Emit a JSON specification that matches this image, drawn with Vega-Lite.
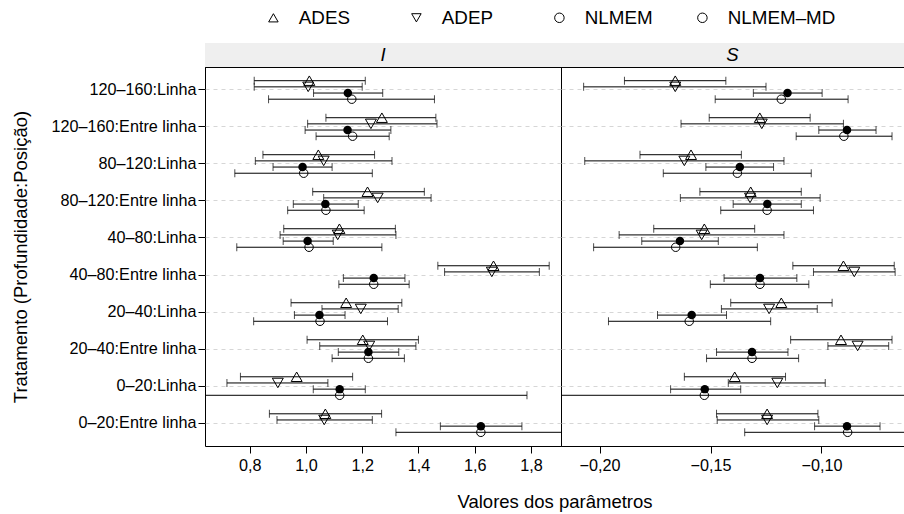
{
  "$schema": "https://vega.github.io/schema/vega-lite/v6.json",
  "padding": {"left": 10, "top": 7, "right": 0, "bottom": 0},
  "config": {
    "font": "Liberation Sans",
    "view": {"stroke": "black", "strokeWidth": 1},
    "locale": {"number": {"decimal": ",", "thousands": ".", "grouping": [3], "currency": ["", " €"]}},
    "axis": {"labelColor": "black", "tickColor": "black", "titleColor": "black", "labelFont": "Liberation Sans", "titleFont": "Liberation Sans"}
  },
  "data": {"values": [
    {"p":"I","t":"120–160:Linha","m":"ADES","e":1.012,"lo":0.816,"hi":1.211},
    {"p":"I","t":"120–160:Linha","m":"ADEP","e":1.008,"lo":0.816,"hi":1.200},
    {"p":"I","t":"120–160:Linha","m":"NLMEM","e":1.149,"lo":1.027,"hi":1.273},
    {"p":"I","t":"120–160:Linha","m":"NLMEM–MD","e":1.163,"lo":0.867,"hi":1.457},
    {"p":"I","t":"120–160:Entre linha","m":"ADES","e":1.270,"lo":1.071,"hi":1.462},
    {"p":"I","t":"120–160:Entre linha","m":"ADEP","e":1.231,"lo":1.006,"hi":1.466},
    {"p":"I","t":"120–160:Entre linha","m":"NLMEM","e":1.148,"lo":0.997,"hi":1.302},
    {"p":"I","t":"120–160:Entre linha","m":"NLMEM–MD","e":1.166,"lo":1.036,"hi":1.296},
    {"p":"I","t":"80–120:Linha","m":"ADES","e":1.044,"lo":0.847,"hi":1.244},
    {"p":"I","t":"80–120:Linha","m":"ADEP","e":1.063,"lo":0.820,"hi":1.306},
    {"p":"I","t":"80–120:Linha","m":"NLMEM","e":0.988,"lo":0.883,"hi":1.093},
    {"p":"I","t":"80–120:Linha","m":"NLMEM–MD","e":0.992,"lo":0.747,"hi":1.236},
    {"p":"I","t":"80–120:Entre linha","m":"ADES","e":1.219,"lo":1.024,"hi":1.421},
    {"p":"I","t":"80–120:Entre linha","m":"ADEP","e":1.255,"lo":1.063,"hi":1.445},
    {"p":"I","t":"80–120:Entre linha","m":"NLMEM","e":1.069,"lo":0.955,"hi":1.186},
    {"p":"I","t":"80–120:Entre linha","m":"NLMEM–MD","e":1.071,"lo":0.935,"hi":1.207},
    {"p":"I","t":"40–80:Linha","m":"ADES","e":1.119,"lo":0.921,"hi":1.318},
    {"p":"I","t":"40–80:Linha","m":"ADEP","e":1.113,"lo":0.908,"hi":1.320},
    {"p":"I","t":"40–80:Linha","m":"NLMEM","e":1.006,"lo":0.919,"hi":1.097},
    {"p":"I","t":"40–80:Linha","m":"NLMEM–MD","e":1.011,"lo":0.754,"hi":1.270},
    {"p":"I","t":"40–80:Entre linha","m":"ADES","e":1.667,"lo":1.469,"hi":1.865},
    {"p":"I","t":"40–80:Entre linha","m":"ADEP","e":1.661,"lo":1.493,"hi":1.830},
    {"p":"I","t":"40–80:Entre linha","m":"NLMEM","e":1.241,"lo":1.133,"hi":1.352},
    {"p":"I","t":"40–80:Entre linha","m":"NLMEM–MD","e":1.241,"lo":1.117,"hi":1.367},
    {"p":"I","t":"20–40:Linha","m":"ADES","e":1.143,"lo":0.947,"hi":1.341},
    {"p":"I","t":"20–40:Linha","m":"ADEP","e":1.195,"lo":1.057,"hi":1.328},
    {"p":"I","t":"20–40:Linha","m":"NLMEM","e":1.048,"lo":0.959,"hi":1.139},
    {"p":"I","t":"20–40:Linha","m":"NLMEM–MD","e":1.050,"lo":0.814,"hi":1.290},
    {"p":"I","t":"20–40:Entre linha","m":"ADES","e":1.202,"lo":1.004,"hi":1.400},
    {"p":"I","t":"20–40:Entre linha","m":"ADEP","e":1.225,"lo":1.049,"hi":1.391},
    {"p":"I","t":"20–40:Entre linha","m":"NLMEM","e":1.222,"lo":1.115,"hi":1.330},
    {"p":"I","t":"20–40:Entre linha","m":"NLMEM–MD","e":1.222,"lo":1.093,"hi":1.350},
    {"p":"I","t":"0–20:Linha","m":"ADES","e":0.967,"lo":0.767,"hi":1.166},
    {"p":"I","t":"0–20:Linha","m":"ADEP","e":0.900,"lo":0.719,"hi":1.078},
    {"p":"I","t":"0–20:Linha","m":"NLMEM","e":1.120,"lo":1.026,"hi":1.211},
    {"p":"I","t":"0–20:Linha","m":"NLMEM–MD","e":1.120,"lo":0.454,"hi":1.786},
    {"p":"I","t":"0–20:Entre linha","m":"ADES","e":1.069,"lo":0.870,"hi":1.269},
    {"p":"I","t":"0–20:Entre linha","m":"ADEP","e":1.065,"lo":0.897,"hi":1.236},
    {"p":"I","t":"0–20:Entre linha","m":"NLMEM","e":1.622,"lo":1.478,"hi":1.768},
    {"p":"I","t":"0–20:Entre linha","m":"NLMEM–MD","e":1.622,"lo":1.320,"hi":1.924},
    {"p":"S","t":"120–160:Linha","m":"ADES","e":-0.1659,"lo":-0.1888,"hi":-0.1431},
    {"p":"S","t":"120–160:Linha","m":"ADEP","e":-0.1659,"lo":-0.2072,"hi":-0.1250},
    {"p":"S","t":"120–160:Linha","m":"NLMEM","e":-0.1153,"lo":-0.1307,"hi":-0.0997},
    {"p":"S","t":"120–160:Linha","m":"NLMEM–MD","e":-0.1181,"lo":-0.1479,"hi":-0.0880},
    {"p":"S","t":"120–160:Entre linha","m":"ADES","e":-0.1278,"lo":-0.1506,"hi":-0.1051},
    {"p":"S","t":"120–160:Entre linha","m":"ADEP","e":-0.1269,"lo":-0.1633,"hi":-0.0901},
    {"p":"S","t":"120–160:Entre linha","m":"NLMEM","e":-0.0885,"lo":-0.1012,"hi":-0.0754},
    {"p":"S","t":"120–160:Entre linha","m":"NLMEM–MD","e":-0.0899,"lo":-0.1114,"hi":-0.0682},
    {"p":"S","t":"80–120:Linha","m":"ADES","e":-0.1588,"lo":-0.1818,"hi":-0.1361},
    {"p":"S","t":"80–120:Linha","m":"ADEP","e":-0.1618,"lo":-0.2067,"hi":-0.1169},
    {"p":"S","t":"80–120:Linha","m":"NLMEM","e":-0.1368,"lo":-0.1521,"hi":-0.1216},
    {"p":"S","t":"80–120:Linha","m":"NLMEM–MD","e":-0.1379,"lo":-0.1713,"hi":-0.1046},
    {"p":"S","t":"80–120:Entre linha","m":"ADES","e":-0.1319,"lo":-0.1548,"hi":-0.1091},
    {"p":"S","t":"80–120:Entre linha","m":"ADEP","e":-0.1322,"lo":-0.1636,"hi":-0.1006},
    {"p":"S","t":"80–120:Entre linha","m":"NLMEM","e":-0.1244,"lo":-0.1398,"hi":-0.1091},
    {"p":"S","t":"80–120:Entre linha","m":"NLMEM–MD","e":-0.1245,"lo":-0.1454,"hi":-0.1036},
    {"p":"S","t":"40–80:Linha","m":"ADES","e":-0.1528,"lo":-0.1756,"hi":-0.1301},
    {"p":"S","t":"40–80:Linha","m":"ADEP","e":-0.1540,"lo":-0.1912,"hi":-0.1169},
    {"p":"S","t":"40–80:Linha","m":"NLMEM","e":-0.1638,"lo":-0.1810,"hi":-0.1465},
    {"p":"S","t":"40–80:Linha","m":"NLMEM–MD","e":-0.1657,"lo":-0.2027,"hi":-0.1289},
    {"p":"S","t":"40–80:Entre linha","m":"ADES","e":-0.0901,"lo":-0.1129,"hi":-0.0672},
    {"p":"S","t":"40–80:Entre linha","m":"ADEP","e":-0.0852,"lo":-0.1036,"hi":-0.0668},
    {"p":"S","t":"40–80:Entre linha","m":"NLMEM","e":-0.1277,"lo":-0.1439,"hi":-0.1111},
    {"p":"S","t":"40–80:Entre linha","m":"NLMEM–MD","e":-0.1277,"lo":-0.1501,"hi":-0.1057},
    {"p":"S","t":"20–40:Linha","m":"ADES","e":-0.1181,"lo":-0.1409,"hi":-0.0952},
    {"p":"S","t":"20–40:Linha","m":"ADEP","e":-0.1236,"lo":-0.1451,"hi":-0.1019},
    {"p":"S","t":"20–40:Linha","m":"NLMEM","e":-0.1585,"lo":-0.1739,"hi":-0.1428},
    {"p":"S","t":"20–40:Linha","m":"NLMEM–MD","e":-0.1596,"lo":-0.1960,"hi":-0.1229},
    {"p":"S","t":"20–40:Entre linha","m":"ADES","e":-0.0912,"lo":-0.1139,"hi":-0.0682},
    {"p":"S","t":"20–40:Entre linha","m":"ADEP","e":-0.0837,"lo":-0.0971,"hi":-0.0697},
    {"p":"S","t":"20–40:Entre linha","m":"NLMEM","e":-0.1313,"lo":-0.1473,"hi":-0.1151},
    {"p":"S","t":"20–40:Entre linha","m":"NLMEM–MD","e":-0.1313,"lo":-0.1518,"hi":-0.1103},
    {"p":"S","t":"0–20:Linha","m":"ADES","e":-0.1391,"lo":-0.1618,"hi":-0.1162},
    {"p":"S","t":"0–20:Linha","m":"ADEP","e":-0.1199,"lo":-0.1420,"hi":-0.0983},
    {"p":"S","t":"0–20:Linha","m":"NLMEM","e":-0.1526,"lo":-0.1680,"hi":-0.1364},
    {"p":"S","t":"0–20:Linha","m":"NLMEM–MD","e":-0.1528,"lo":-0.2600,"hi":-0.0400},
    {"p":"S","t":"0–20:Entre linha","m":"ADES","e":-0.1245,"lo":-0.1473,"hi":-0.1016},
    {"p":"S","t":"0–20:Entre linha","m":"ADEP","e":-0.1245,"lo":-0.1470,"hi":-0.1012},
    {"p":"S","t":"0–20:Entre linha","m":"NLMEM","e":-0.0885,"lo":-0.1031,"hi":-0.0736},
    {"p":"S","t":"0–20:Entre linha","m":"NLMEM–MD","e":-0.0882,"lo":-0.1346,"hi":-0.0418}
  ]},
  "columns": 2,
  "spacing": {"row": 0, "column": 0},
  "bounds": "flush",
  "align": "each",
  "resolve": {"scale": {"shape": "independent"}, "legend": {"shape": "independent"}},
  "concat": [
    {
      "width": 356, "height": 24,
      "data": {"values": [{"p": "I"}]},
      "layer": [
        {"mark": {"type": "rect", "fill": "#efefef"},
         "encoding": {"x": {"field": "p", "type": "nominal", "axis": null, "scale": {"paddingInner": 0, "paddingOuter": 0}}}},
        {"mark": {"type": "text", "fontStyle": "italic", "fontSize": 18.5, "color": "black", "baseline": "middle"},
         "encoding": {"x": {"field": "p", "type": "nominal", "axis": null, "scale": {"paddingInner": 0, "paddingOuter": 0}}, "text": {"field": "p"}}}
      ]
    },
    {
      "width": 343, "height": 24,
      "data": {"values": [{"p": "S"}]},
      "layer": [
        {"mark": {"type": "rect", "fill": "#efefef"},
         "encoding": {"x": {"field": "p", "type": "nominal", "axis": null, "scale": {"paddingInner": 0, "paddingOuter": 0}}}},
        {"mark": {"type": "text", "fontStyle": "italic", "fontSize": 18.5, "color": "black", "baseline": "middle"},
         "encoding": {"x": {"field": "p", "type": "nominal", "axis": null, "scale": {"paddingInner": 0, "paddingOuter": 0}}, "text": {"field": "p"}}}
      ]
    },
    {
      "width": 356, "height": 379,
      "transform": [{"filter": "datum.p === 'I'"}],
      "encoding": {
        "y": {"field": "t", "type": "nominal", "title": "Tratamento (Profundidade:Posição)",
              "scale": {"domain": ["120–160:Linha","120–160:Entre linha","80–120:Linha","80–120:Entre linha","40–80:Linha","40–80:Entre linha","20–40:Linha","20–40:Entre linha","0–20:Linha","0–20:Entre linha"], "paddingInner": 0, "paddingOuter": 0.12},
              "axis": {"bandPosition": 0.5, "grid": true, "gridDash": [4, 4], "gridColor": "#d6d6d6", "domain": false, "tickSize": 7, "labelFontSize": 16.2, "labelPadding": 2, "titleFontSize": 18.5, "titleFontWeight": "normal", "titlePadding": 21}},
        "yOffset": {"field": "m", "type": "nominal", "scale": {"domain": ["ADES","ADEP","NLMEM","NLMEM–MD"], "paddingInner": 0, "paddingOuter": 2.87}}
      },
      "layer": [
        {"mark": {"type": "rule", "color": "black", "strokeWidth": 1, "clip": true},
         "encoding": {"x": {"field": "lo", "type": "quantitative", "scale": {"domain": [0.641, 1.907], "nice": false, "zero": false},
                            "axis": {"title": "Valores dos parâmetros", "titleX": 349.5, "titleAlign": "center", "titleFontSize": 18.5, "titleFontWeight": "normal", "titlePadding": 19, "values": [0.8, 1.0, 1.2, 1.4, 1.6, 1.8], "format": ".1f", "tickSize": 7, "labelFontSize": 16.2, "labelPadding": 4, "domain": false, "grid": false}},
                      "x2": {"field": "hi"}}},
        {"mark": {"type": "tick", "orient": "vertical", "size": 8, "thickness": 1, "color": "black", "clip": true},
         "encoding": {"x": {"field": "lo", "type": "quantitative"}}},
        {"mark": {"type": "tick", "orient": "vertical", "size": 8, "thickness": 1, "color": "black", "clip": true},
         "encoding": {"x": {"field": "hi", "type": "quantitative"}}},
        {"transform": [{"filter": "datum.m !== 'NLMEM'"}],
         "mark": {"type": "point", "filled": false, "color": "black", "strokeWidth": 1, "opacity": 1, "clip": true},
         "encoding": {
           "x": {"field": "e", "type": "quantitative"},
           "size": {"condition": {"test": "datum.m === 'NLMEM–MD'", "value": 72}, "value": 120},
           "shape": {"field": "m", "type": "nominal", "scale": {"domain": ["ADES","ADEP","NLMEM","NLMEM–MD"], "range": ["triangle-up","triangle-down","circle","circle"]},
                     "legend": {"title": null, "orient": "none", "legendX": 59, "legendY": -59, "direction": "horizontal", "columns": 4, "gridAlign": "all", "columnPadding": 0, "symbolSize": 90, "symbolStrokeColor": "black", "symbolStrokeWidth": 1, "labelFontSize": 18.8, "labelFont": "Liberation Sans", "labelColor": "black", "labelOffset": 16, "labelLimit": 300, "padding": 0,
                                "encode": {"symbols": {"update": {"stroke": {"value": "black"}, "strokeWidth": {"value": 1}, "fill": {"signal": "datum.value === 'NLMEM' ? 'black' : 'transparent'"}}}}}}
         }},
        {"transform": [{"filter": "datum.m === 'NLMEM'"}],
         "mark": {"type": "point", "filled": true, "color": "black", "size": 72, "opacity": 1, "clip": true},
         "encoding": {
           "x": {"field": "e", "type": "quantitative"},
           "shape": {"field": "m", "type": "nominal", "scale": {"domain": ["ADES","ADEP","NLMEM","NLMEM–MD"], "range": ["triangle-up","triangle-down","circle","circle"]},
                     "legend": {"title": null, "orient": "none", "legendX": 59, "legendY": -59, "direction": "horizontal", "columns": 4, "gridAlign": "all", "columnPadding": 0, "symbolSize": 90, "symbolStrokeColor": "black", "symbolStrokeWidth": 1, "labelFontSize": 18.8, "labelFont": "Liberation Sans", "labelColor": "black", "labelOffset": 16, "labelLimit": 300, "padding": 0,
                                "encode": {"symbols": {"update": {"stroke": {"value": "black"}, "strokeWidth": {"value": 1}, "fill": {"signal": "datum.value === 'NLMEM' ? 'black' : 'transparent'"}}}}}}
         }}
      ]
    },
    {
      "width": 343, "height": 379,
      "transform": [{"filter": "datum.p === 'S'"}],
      "encoding": {
        "y": {"field": "t", "type": "nominal", "title": null,
              "scale": {"domain": ["120–160:Linha","120–160:Entre linha","80–120:Linha","80–120:Entre linha","40–80:Linha","40–80:Entre linha","20–40:Linha","20–40:Entre linha","0–20:Linha","0–20:Entre linha"], "paddingInner": 0, "paddingOuter": 0.12},
              "axis": {"bandPosition": 0.5, "grid": true, "gridDash": [4, 4], "gridColor": "#d6d6d6", "domain": false, "ticks": false, "labels": false}},
        "yOffset": {"field": "m", "type": "nominal", "scale": {"domain": ["ADES","ADEP","NLMEM","NLMEM–MD"], "paddingInner": 0, "paddingOuter": 2.87}}
      },
      "layer": [
        {"mark": {"type": "rule", "color": "black", "strokeWidth": 1, "clip": true},
         "encoding": {"x": {"field": "lo", "type": "quantitative", "scale": {"domain": [-0.2174, -0.0628], "nice": false, "zero": false},
                            "axis": {"title": null, "values": [-0.2, -0.15, -0.1], "format": ".2f", "tickSize": 7, "labelFontSize": 16.2, "labelPadding": 4, "domain": false, "grid": false}},
                      "x2": {"field": "hi"}}},
        {"mark": {"type": "tick", "orient": "vertical", "size": 8, "thickness": 1, "color": "black", "clip": true},
         "encoding": {"x": {"field": "lo", "type": "quantitative"}}},
        {"mark": {"type": "tick", "orient": "vertical", "size": 8, "thickness": 1, "color": "black", "clip": true},
         "encoding": {"x": {"field": "hi", "type": "quantitative"}}},
        {"transform": [{"filter": "datum.m !== 'NLMEM'"}],
         "mark": {"type": "point", "filled": false, "color": "black", "strokeWidth": 1, "opacity": 1, "clip": true},
         "encoding": {
           "x": {"field": "e", "type": "quantitative"},
           "size": {"condition": {"test": "datum.m === 'NLMEM–MD'", "value": 72}, "value": 120},
           "shape": {"field": "m", "type": "nominal", "scale": {"domain": ["ADES","ADEP","NLMEM","NLMEM–MD"], "range": ["triangle-up","triangle-down","circle","circle"]}, "legend": null}
         }},
        {"transform": [{"filter": "datum.m === 'NLMEM'"}],
         "mark": {"type": "point", "filled": true, "color": "black", "size": 72, "opacity": 1, "clip": true},
         "encoding": {
           "x": {"field": "e", "type": "quantitative"},
           "shape": {"field": "m", "type": "nominal", "scale": {"domain": ["ADES","ADEP","NLMEM","NLMEM–MD"], "range": ["triangle-up","triangle-down","circle","circle"]}, "legend": null}
         }}
      ]
    }
  ]
}
